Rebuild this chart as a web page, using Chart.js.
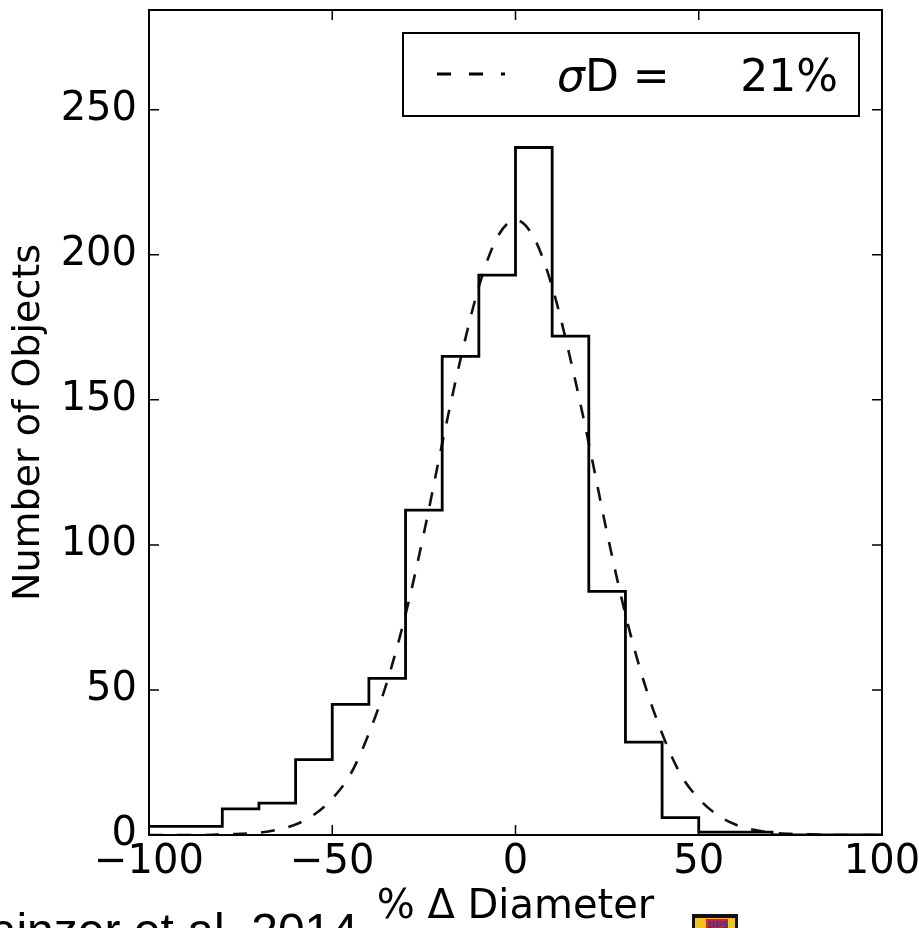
<!DOCTYPE html>
<html>
  <head>
    <title>% Delta Diameter histogram</title>
    <script src="https://cdn.jsdelivr.net/npm/chart.js"></script>
    <style>
      body {
        margin: 0;
        background: #fff;
      }
      canvas {
        display: block;
      }
    </style>
  </head>
  <body>
    <canvas id="histChart" width="919" height="928"></canvas>
    <script>
      // left edges of the 10% bins and the counts
      const binEdges = [-100, -90, -80, -70, -60, -50, -40, -30, -20, -10, 0, 10, 20, 30, 40, 50, 60, 70, 80, 90, 100];
      const binCounts = [3, 3, 9, 11, 26, 45, 54, 112, 165, 193, 237, 172, 84, 32, 6, 1, 1, 0, 0, 0, 0];

      // dashed fit curve, sampled every 5%
      const fitX = [-100, -95, -90, -85, -80, -75, -70, -65, -60, -55, -50, -45, -40, -35, -30, -25, -20, -15, -10, -5,
        0, 5, 10, 15, 20, 25, 30, 35, 40, 45, 50, 55, 60, 65, 70, 75, 80, 85, 90, 95, 100];
      const fitY = [0, 0, 0, 0, 0.2, 0.4, 0.8, 1.8, 3.6, 7, 12.5, 21, 35, 53, 76, 104, 135, 164, 189, 206,
        212, 206, 189, 164, 135, 104, 76, 53, 35, 21, 12.5, 7, 3.6, 1.8, 0.8, 0.4, 0.2, 0, 0, 0, 0];

      const xTicks = [-100, -50, 0, 50, 100];
      const yTicks = [0, 50, 100, 150, 200, 250];
      const legendLabel = "21%";

      Chart.defaults.font.family = "'DejaVu Sans', sans-serif";
      Chart.defaults.color = "#000";

      const fmt = v => (v < 0 ? "\u2212" + Math.abs(v) : String(v));

      // matplotlib-ish frame, inward ticks, legend box and the slide footer
      const decorations = {
        id: "decorations",
        afterDraw(chart) {
          const { ctx, chartArea: a, scales } = chart;
          const x = scales.x, y = scales.y;
          ctx.save();
          ctx.strokeStyle = "#000";
          ctx.lineWidth = 2;
          ctx.strokeRect(a.left, a.top, a.right - a.left, a.bottom - a.top);

          ctx.lineWidth = 1.5;
          ctx.beginPath();
          xTicks.forEach(v => {
            const px = x.getPixelForValue(v);
            ctx.moveTo(px, a.bottom);
            ctx.lineTo(px, a.bottom - 10);
            ctx.moveTo(px, a.top);
            ctx.lineTo(px, a.top + 10);
          });
          yTicks.forEach(v => {
            const py = y.getPixelForValue(v);
            ctx.moveTo(a.left, py);
            ctx.lineTo(a.left + 10, py);
            ctx.moveTo(a.right, py);
            ctx.lineTo(a.right - 10, py);
          });
          ctx.stroke();

          // legend
          const bx = a.right - 479, by = a.top + 23, bw = 456, bh = 83;
          ctx.fillStyle = "#fff";
          ctx.fillRect(bx, by, bw, bh);
          ctx.lineWidth = 2;
          ctx.strokeRect(bx, by, bw, bh);
          ctx.beginPath();
          ctx.setLineDash([14, 18]);
          ctx.lineWidth = 2.8;
          ctx.moveTo(bx + 34, by + 41);
          ctx.lineTo(bx + 102, by + 41);
          ctx.stroke();
          ctx.setLineDash([]);
          ctx.fillStyle = "#000";
          ctx.textBaseline = "alphabetic";
          ctx.textAlign = "left";
          ctx.font = "italic 44px 'DejaVu Sans'";
          ctx.fillText("\u03c3", bx + 154, by + 58);
          const sw = ctx.measureText("\u03c3").width;
          ctx.font = "44px 'DejaVu Sans'";
          ctx.fillText("D =", bx + 154 + sw, by + 58);
          ctx.textAlign = "right";
          ctx.fillText(legendLabel, bx + 435, by + 58);

          // footer: citation and logo, clipped by the bottom edge
          ctx.textAlign = "right";
          ctx.font = "48px 'Liberation Sans', Arial";
          ctx.fillText("Mainzer et al. 2014", 358, 947);

          ctx.fillStyle = "#111";
          ctx.fillRect(692, 914, 46, 20);
          ctx.fillStyle = "#f2c418";
          ctx.fillRect(695, 918, 40, 16);
          ctx.fillStyle = "#d4232a";
          ctx.fillRect(706, 919, 22, 12);
          ctx.fillStyle = "#2a3fa0";
          ctx.font = "bold 9px 'DejaVu Sans'";
          ctx.textAlign = "left";
          ctx.fillText("DPS", 708, 928);

          ctx.fillStyle = "#c0302a";
          ctx.font = "30px 'Liberation Sans', Arial";
          ctx.fillText("NEOWISE \u2013 WISE", 758, 949);
          ctx.restore();
        },
      };

      const ctx = document.getElementById("histChart").getContext("2d");
      const histChart = new Chart(ctx, {
        type: "line",
        data: {
          datasets: [
            {
              label: "histogram",
              data: binEdges.map((e, i) => ({ x: e, y: binCounts[i] })),
              stepped: "before",
              borderColor: "#000",
              borderWidth: 2.8,
              pointRadius: 0,
              fill: false,
            },
            {
              label: "\u03c3D = " + legendLabel,
              data: fitX.map((e, i) => ({ x: e, y: fitY[i] })),
              borderColor: "#111",
              borderWidth: 2.6,
              borderDash: [14, 14],
              cubicInterpolationMode: "monotone",
              pointRadius: 0,
              fill: false,
            },
          ],
        },
        options: {
          responsive: false,
          animation: false,
          layout: {
            padding: { top: 10, right: 37, left: 0, bottom: 0 },
          },
          plugins: {
            legend: { display: false },
            tooltip: { enabled: false },
          },
          scales: {
            x: {
              type: "linear",
              min: -100,
              max: 100,
              grid: { display: false },
              border: { display: false },
              afterBuildTicks: s => {
                s.ticks = xTicks.map(v => ({ value: v }));
              },
              ticks: {
                font: { size: 40 },
                padding: -4,
                maxRotation: 0,
                callback: v => fmt(v),
              },
              title: {
                display: true,
                text: "% \u0394 Diameter",
                font: { size: 40 },
                padding: { top: 0, bottom: -4 },
              },
              afterFit: s => {
                s.height = 93;
                s.paddingLeft = 0;
                s.paddingRight = 0;
              },
            },
            y: {
              min: 0,
              max: 284.4,
              grid: { display: false },
              border: { display: false },
              afterBuildTicks: s => {
                s.ticks = yTicks.map(v => ({ value: v }));
              },
              ticks: {
                font: { size: 40 },
                padding: 4,
                callback: v => fmt(v),
              },
              title: {
                display: true,
                text: "Number of Objects",
                font: { size: 38 },
                padding: { top: 6, bottom: 0 },
              },
              afterFit: s => {
                s.width = 149;
                s.paddingTop = 0;
                s.paddingBottom = 0;
              },
            },
          },
        },
        plugins: [decorations],
      });
    </script>
  </body>
</html>
